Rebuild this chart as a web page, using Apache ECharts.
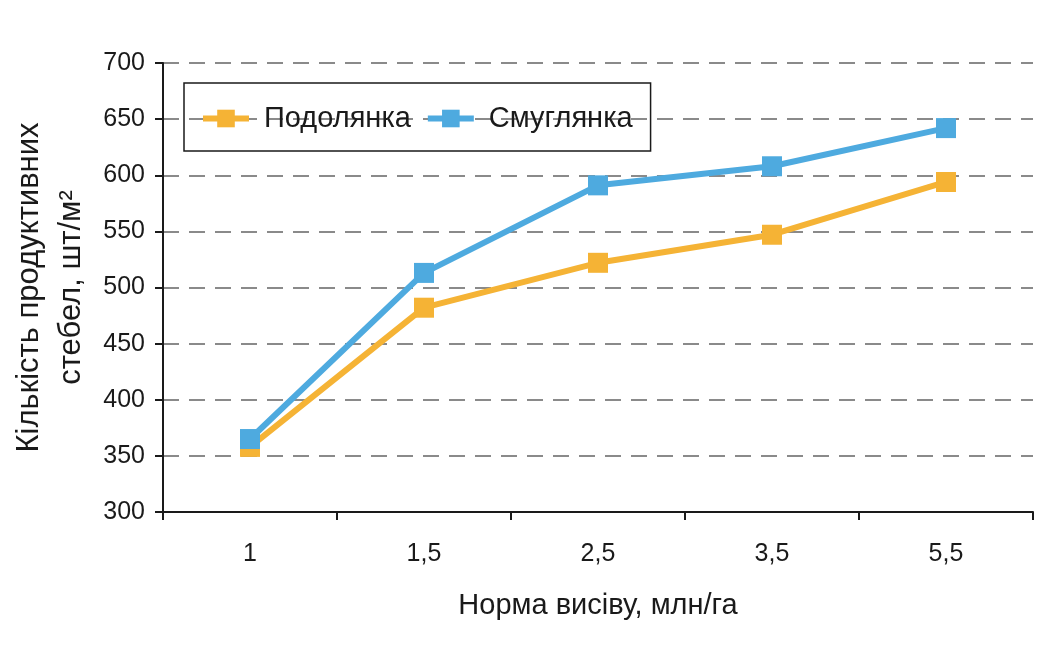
<!DOCTYPE html>
<html>
<head>
<meta charset="utf-8">
<script src="https://cdn.jsdelivr.net/npm/echarts@6/dist/echarts.min.js"></script>
<style>
html,body{margin:0;padding:0;background:#fff;}
#chart{width:1056px;height:645px;}
</style>
</head>
<body>
<div id="chart"></div>
<script>
const categories = ['1', '1,5', '2,5', '3,5', '5,5'];
const podolyanka = [358, 482, 522, 547, 594];
const smuglyanka = [365, 513, 591, 608, 642];
const yTicks = { min: 300, max: 700, interval: 50 };

const FONT = '"Liberation Sans", Arial, sans-serif';
const chart = echarts.init(document.getElementById('chart'));
chart.setOption({
  backgroundColor: '#fff',
  animation: false,
  grid: { left: 163, right: 23, top: 63, bottom: 133, containLabel: false, outerBoundsMode: 'none' },
  legend: {
    left: 184, top: 83,
    padding: [21, 18, 18, 16],
    borderColor: '#1a1a1a', borderWidth: 1.5,
    itemWidth: 46, itemHeight: 22, itemGap: 14,
    lineStyle: { width: 6 },
    textStyle: { fontFamily: FONT, fontSize: 29, color: '#1a1a1a', padding: [0, 0, 0, 10] },
    data: ['Подолянка', 'Смуглянка']
  },
  xAxis: {
    type: 'category',
    data: categories,
    boundaryGap: true,
    name: 'Норма висіву, млн/га',
    nameLocation: 'middle',
    nameGap: 79,
    nameTextStyle: { fontFamily: FONT, fontSize: 29, color: '#1a1a1a' },
    axisLine: { lineStyle: { color: '#1a1a1a', width: 2 } },
    axisTick: { show: true, length: 8, inside: false, lineStyle: { color: '#1a1a1a', width: 2 } },
    axisLabel: { fontFamily: FONT, fontSize: 25, color: '#1a1a1a', margin: 30 }
  },
  yAxis: {
    type: 'value',
    min: yTicks.min, max: yTicks.max, interval: yTicks.interval,
    name: 'Кількість продуктивних\nстебел, шт/м²',
    nameLocation: 'middle',
    nameRotate: 90,
    nameGap: 57,
    nameTextStyle: { fontFamily: FONT, fontSize: 31, color: '#1a1a1a', lineHeight: 42, align: 'center' },
    axisLine: { show: true, lineStyle: { color: '#1a1a1a', width: 2 } },
    axisTick: { show: true, length: 8, lineStyle: { color: '#1a1a1a', width: 2 } },
    axisLabel: { fontFamily: FONT, fontSize: 25, color: '#1a1a1a', margin: 18 },
    splitLine: { show: true, lineStyle: { color: '#8a8a8a', width: 2, type: [16, 10] } }
  },
  series: [
    {
      name: 'Подолянка', type: 'line', data: podolyanka,
      symbol: 'rect', symbolSize: 20,
      lineStyle: { color: '#F5B335', width: 6 },
      itemStyle: { color: '#F5B335' }
    },
    {
      name: 'Смуглянка', type: 'line', data: smuglyanka,
      symbol: 'rect', symbolSize: 20,
      lineStyle: { color: '#4EAADF', width: 6 },
      itemStyle: { color: '#4EAADF' }
    }
  ]
});
</script>
</body>
</html>
